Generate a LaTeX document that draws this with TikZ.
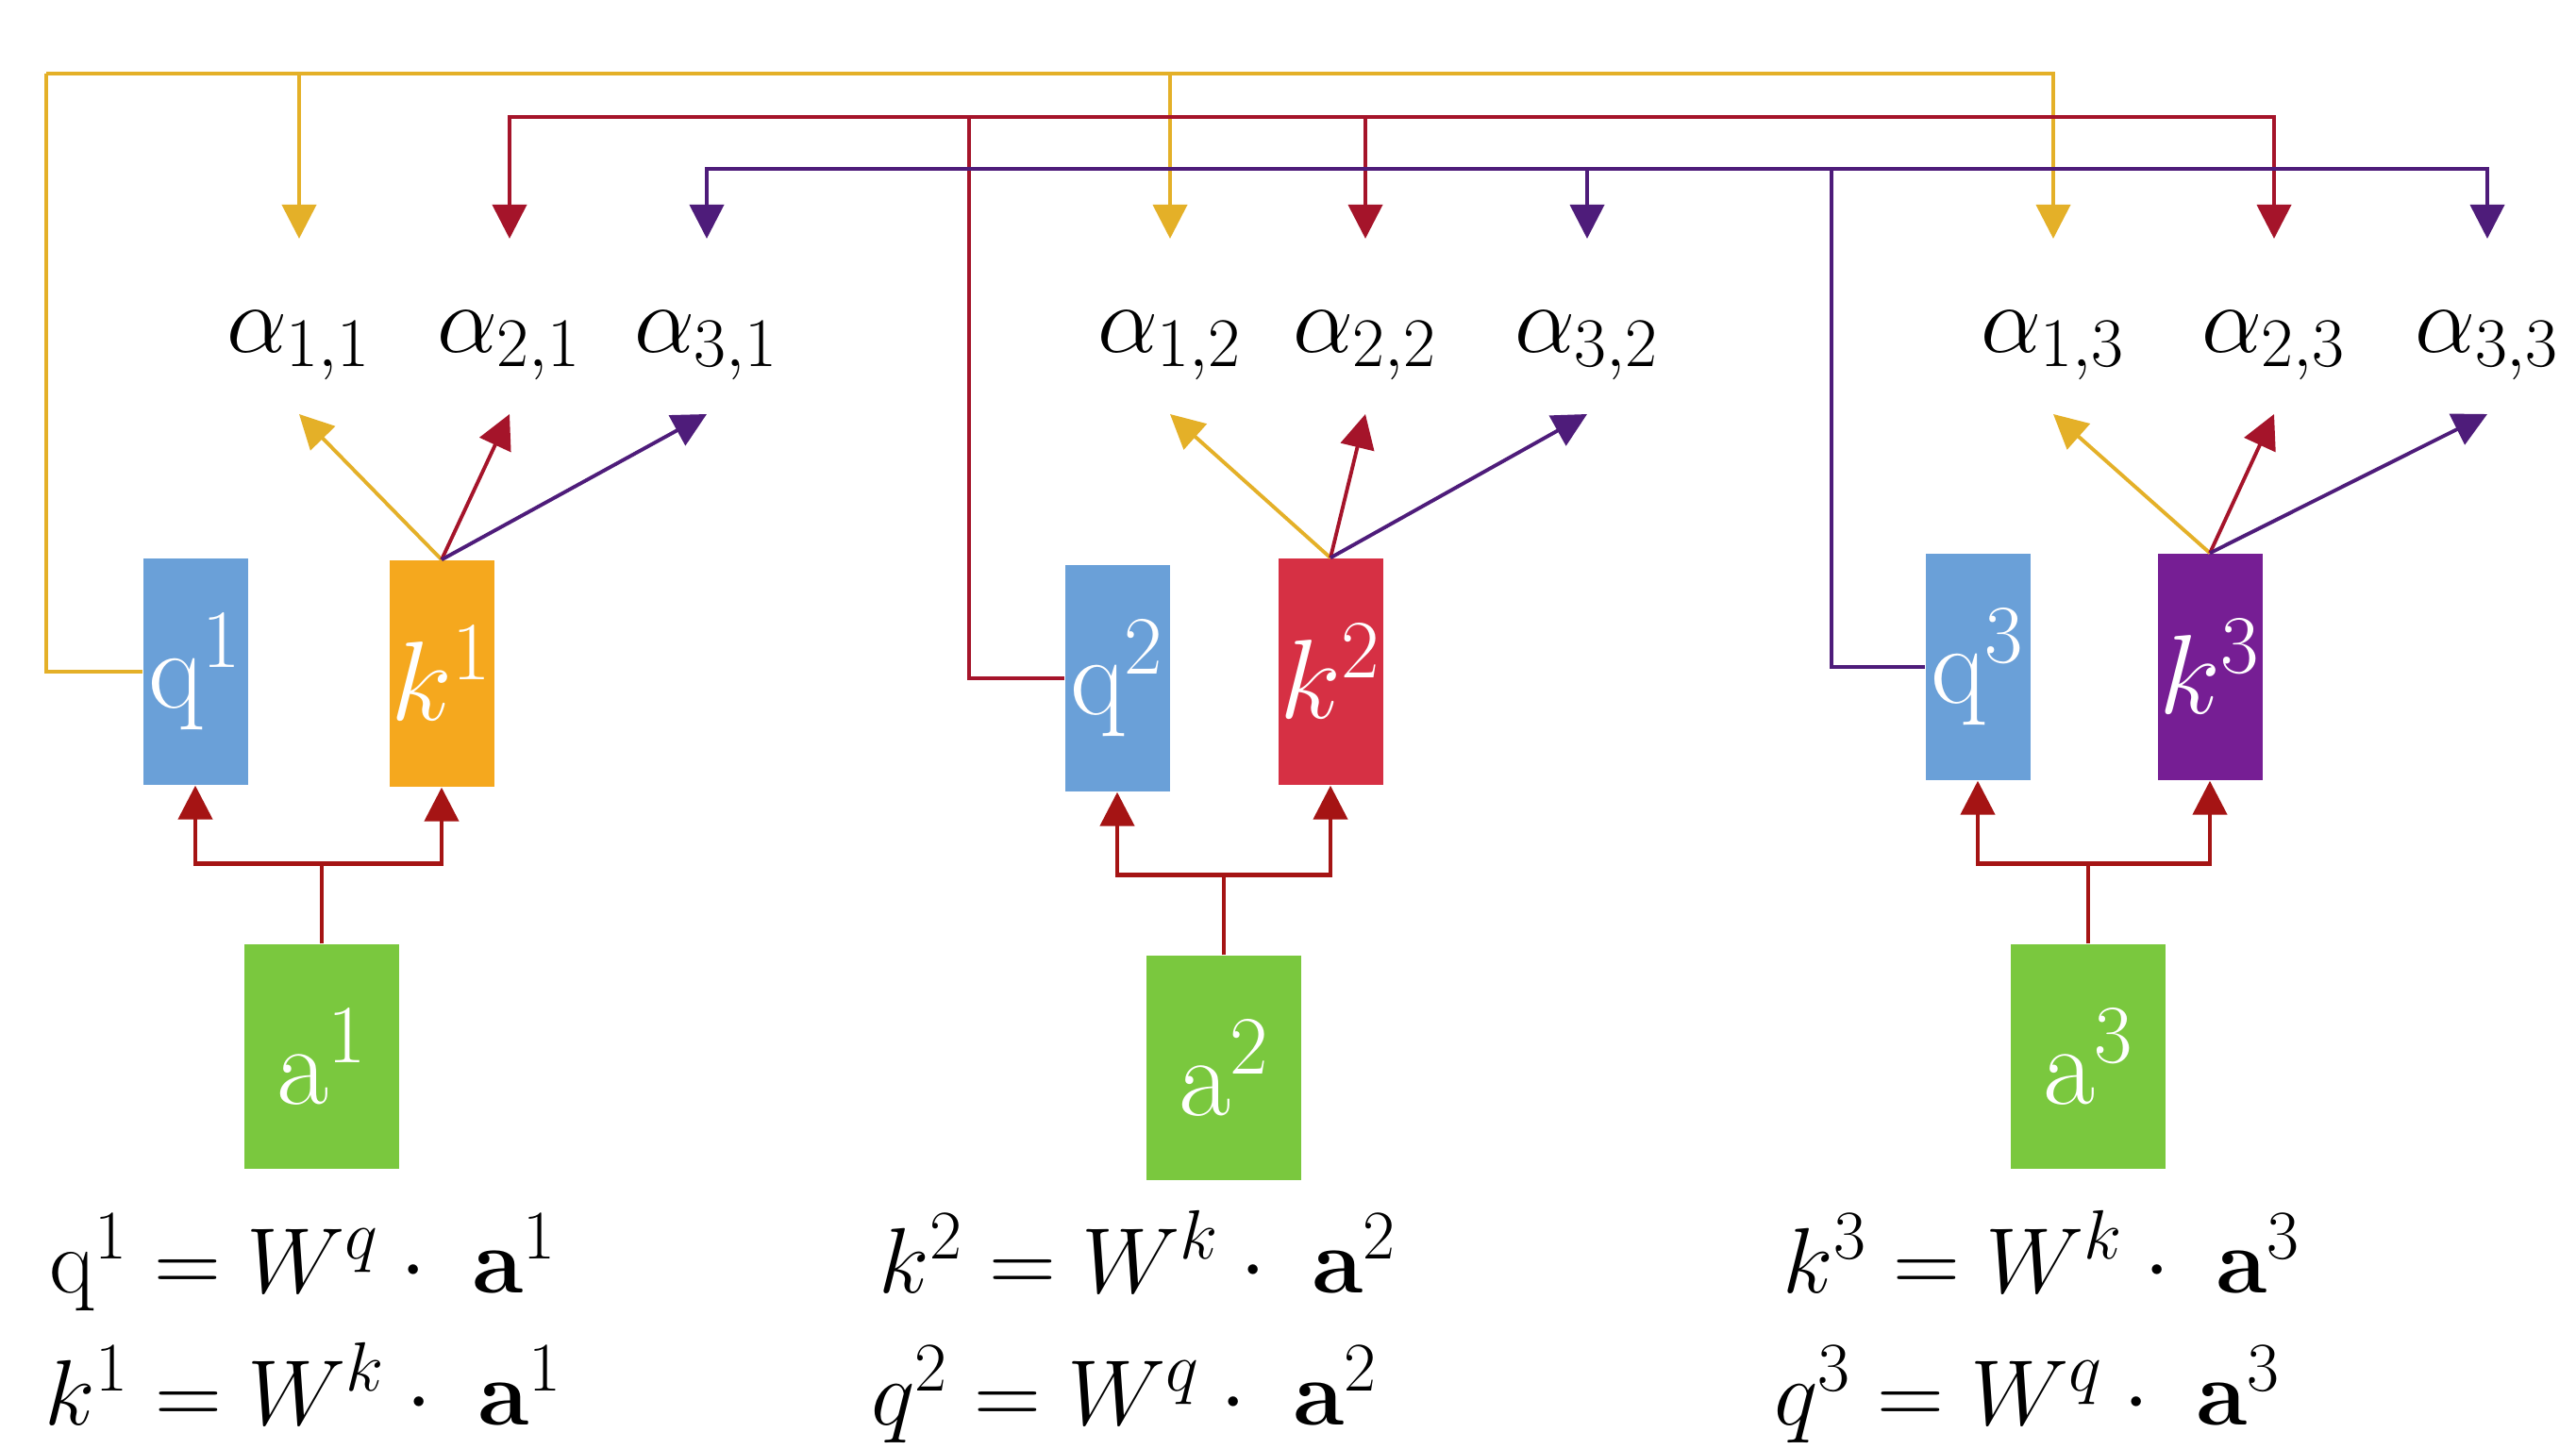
\RequirePackage{fix-cm}
\documentclass[tikz,border=0pt]{standalone}
\usepackage{amsmath,amssymb}
\usetikzlibrary{arrows.meta,positioning}
\DeclareMathSizes{34}{34}{25}{18}
\DeclareMathSizes{29}{29}{21}{15}
\DeclareMathSizes{28}{28}{21}{15}
\definecolor{qblue}{RGB}{106,160,216}
\definecolor{korange}{RGB}{245,168,30}
\definecolor{kred}{RGB}{214,48,68}
\definecolor{kpurple}{RGB}{118,30,148}
\definecolor{agreen}{RGB}{122,200,62}
\definecolor{ycol}{RGB}{228,176,40}
\definecolor{rcol}{RGB}{165,20,42}
\definecolor{pcol}{RGB}{78,28,122}
\definecolor{bcol}{RGB}{165,20,20}
\begin{document}
\begin{tikzpicture}[box/.style={minimum width=1.11cm,minimum height=2.40cm,inner sep=0pt,text=white,font=\fontsize{34}{38}\selectfont},
 inbox/.style={box,fill=agreen,minimum width=1.64cm,minimum height=2.38cm},
 alab/.style={inner sep=0pt,font=\fontsize{29}{34}\selectfont},
 eq/.style={anchor=base west,inner sep=0pt,font=\fontsize{28}{34}\selectfont},
 yl/.style={draw=ycol,line width=1.1pt},rl/.style={draw=rcol,line width=1.1pt},
 pl/.style={draw=pcol,line width=1.1pt},bl/.style={draw=bcol,line width=1.3pt},
 >={Triangle[length=0.36cm,width=0.36cm]}]
\useasboundingbox[fill=white] (0,0) rectangle (27.30,15.35);
% query / key / input boxes
\node[box,fill=qblue] (q1) at (2.07,8.23) {$\mathrm{q}^1$};
\node[box,fill=korange] (k1) at (4.68,8.21) {$k^1$};
\node[inbox] (a1) at (3.41,4.15) {$\mathrm{a}^1$};
\node[box,fill=qblue] (q2) at (11.84,8.16) {$\mathrm{q}^2$};
\node[box,fill=kred] (k2) at (14.10,8.23) {$k^2$};
\node[inbox] (a2) at (12.97,4.03) {$\mathrm{a}^2$};
\node[box,fill=qblue] (q3) at (20.96,8.28) {$\mathrm{q}^3$};
\node[box,fill=kpurple] (k3) at (23.42,8.28) {$k^3$};
\node[inbox] (a3) at (22.13,4.15) {$\mathrm{a}^3$};
% attention scores
\node[alab] (al11) at (3.17,11.69) {$\alpha_{1,1}$};
\node[alab] (al21) at (5.40,11.69) {$\alpha_{2,1}$};
\node[alab] (al31) at (7.49,11.69) {$\alpha_{3,1}$};
\node[alab] (al12) at (12.40,11.69) {$\alpha_{1,2}$};
\node[alab] (al22) at (14.47,11.69) {$\alpha_{2,2}$};
\node[alab] (al32) at (16.82,11.69) {$\alpha_{3,2}$};
\node[alab] (al13) at (21.76,11.69) {$\alpha_{1,3}$};
\node[alab] (al23) at (24.10,11.69) {$\alpha_{2,3}$};
\node[alab] (al33) at (26.36,11.69) {$\alpha_{3,3}$};
% a -> q,k
\draw[bl] (a1.north) -- ++(0,0.85) coordinate (j1);
\draw[bl,->] (j1) -| (q1.south);\draw[bl,->] (j1) -| (k1.south);
\draw[bl] (a2.north) -- ++(0,0.85) coordinate (j2);
\draw[bl,->] (j2) -| (q2.south);\draw[bl,->] (j2) -| (k2.south);
\draw[bl] (a3.north) -- ++(0,0.85) coordinate (j3);
\draw[bl,->] (j3) -| (q3.south);\draw[bl,->] (j3) -| (k3.south);
% k -> alpha
\foreach \j in {1,2,3}{
 \draw[yl,->] (k\j.north) -- ([yshift=-0.73cm]al1\j.center);
 \draw[rl,->] (k\j.north) -- ([yshift=-0.73cm]al2\j.center);
 \draw[pl,->] (k\j.north) -- ([yshift=-0.73cm]al3\j.center);
}
% q -> alpha, along the top
\coordinate (ytop) at (0.49,14.57);
\coordinate (rtop) at (10.27,14.11);
\coordinate (ptop) at (19.41,13.56);
\draw[yl] (q1.west) -| (ytop);
\draw[yl,->] (ytop) -| ([yshift=1.13cm]al13.center);
\draw[yl,->] (ytop -| al11) -- ([yshift=1.13cm]al11.center);
\draw[yl,->] (ytop -| al12) -- ([yshift=1.13cm]al12.center);
\draw[rl] (q2.west) -| (rtop);
\draw[rl,->] (rtop) -| ([yshift=1.13cm]al21.center);
\draw[rl,->] (rtop) -| ([yshift=1.13cm]al23.center);
\draw[rl,->] (rtop -| al22) -- ([yshift=1.13cm]al22.center);
\draw[pl] (q3.west) -| (ptop);
\draw[pl,->] (ptop) -| ([yshift=1.13cm]al31.center);
\draw[pl,->] (ptop) -| ([yshift=1.13cm]al33.center);
\draw[pl,->] (ptop -| al32) -- ([yshift=1.13cm]al32.center);
% formulas
\node[eq] (e11) at (0.52,1.65) {$\mathrm{q}^1 = W^q \cdot\; \mathbf{a}^1$};
\node[eq] (e12) at (0.47,0.25) {$k^1 = W^k \cdot\; \mathbf{a}^1$};
\node[eq] (e21) at (9.31,1.65) {$k^2 = W^k \cdot\; \mathbf{a}^2$};
\node[eq] (e22) at (9.23,0.25) {$q^2 = W^q \cdot\; \mathbf{a}^2$};
\node[eq] (e31) at (18.89,1.65) {$k^3 = W^k \cdot\; \mathbf{a}^3$};
\node[eq] (e32) at (18.80,0.25) {$q^3 = W^q \cdot\; \mathbf{a}^3$};
\end{tikzpicture}
\end{document}
